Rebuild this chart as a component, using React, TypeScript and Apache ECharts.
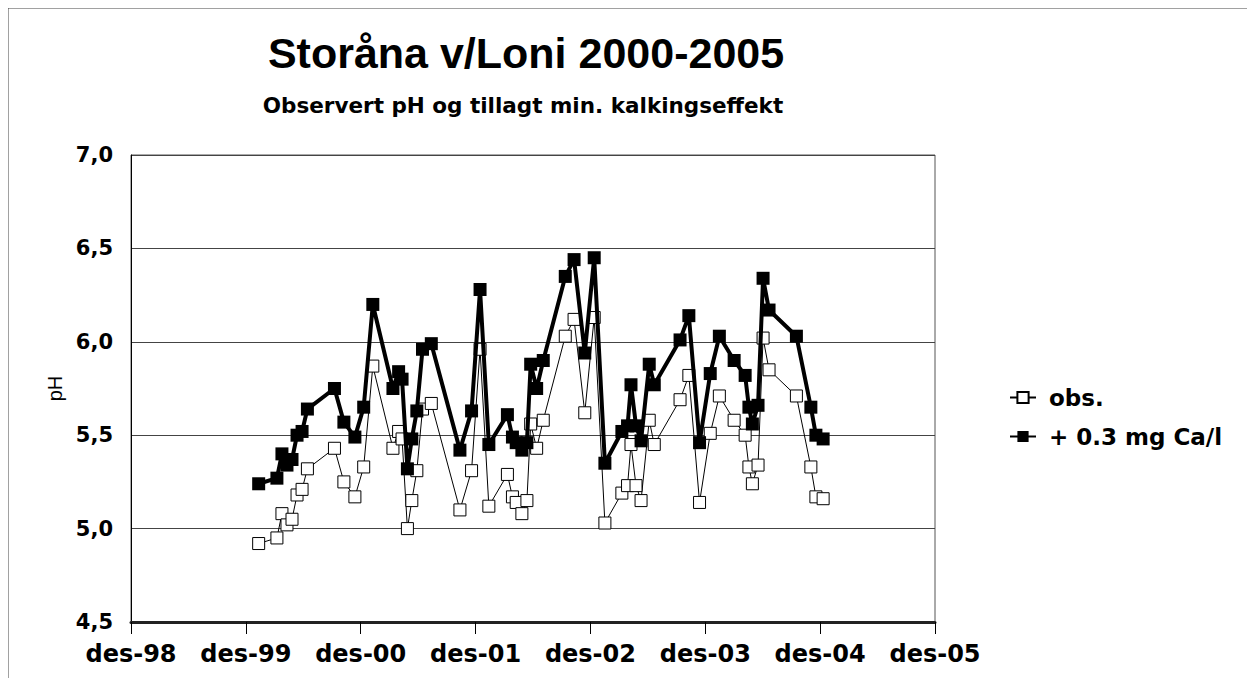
import React, { useEffect, useRef } from "react";
import * as echarts from "echarts";

const dates = [
  "2000-01-11", "2000-03-09", "2000-03-25", "2000-04-10", "2000-04-26", "2000-05-12", "2000-05-28", "2000-06-14",
  "2000-09-08", "2000-10-08", "2000-11-12", "2000-12-10", "2001-01-08", "2001-03-13", "2001-03-31", "2001-04-11",
  "2001-04-28", "2001-05-12", "2001-05-28", "2001-06-15", "2001-07-13", "2001-10-12", "2001-11-18", "2001-12-15",
  "2002-01-12", "2002-03-12", "2002-03-28", "2002-04-09", "2002-04-27", "2002-05-13", "2002-05-25", "2002-06-13",
  "2002-07-04", "2002-09-12", "2002-10-10", "2002-11-13", "2002-12-13", "2003-01-16", "2003-03-11", "2003-03-29",
  "2003-04-09", "2003-04-25", "2003-05-11", "2003-06-06", "2003-06-22", "2003-09-12", "2003-10-10", "2003-11-13",
  "2003-12-17", "2004-01-15", "2004-03-02", "2004-04-06", "2004-04-18", "2004-04-29", "2004-05-17", "2004-06-02",
  "2004-06-21", "2004-09-16", "2004-11-01", "2004-11-17", "2004-12-10",
];

const obs = [
  4.92, 4.95, 5.08, 5.02, 5.05, 5.18, 5.21, 5.32,
  5.43, 5.25, 5.17, 5.33, 5.87, 5.43, 5.52, 5.48,
  5.0, 5.15, 5.31, 5.64, 5.67, 5.1, 5.31, 5.96,
  5.12, 5.29, 5.17, 5.14, 5.08, 5.15, 5.56, 5.43,
  5.58, 6.03, 6.12, 5.62, 6.13, 5.03, 5.19, 5.23,
  5.45, 5.23, 5.15, 5.58, 5.45, 5.69, 5.82, 5.14,
  5.51, 5.71, 5.58, 5.5, 5.33, 5.24, 5.34, 6.02,
  5.85, 5.71, 5.33, 5.17, 5.16,
];

const kalk = [
  5.24, 5.27, 5.4, 5.34, 5.37, 5.5, 5.52, 5.64,
  5.75, 5.57, 5.49, 5.65, 6.2, 5.75, 5.84, 5.8,
  5.32, 5.48, 5.63, 5.96, 5.99, 5.42, 5.63, 6.28,
  5.45, 5.61, 5.49, 5.46, 5.42, 5.46, 5.88, 5.75,
  5.9, 6.35, 6.44, 5.94, 6.45, 5.35, 5.52, 5.55,
  5.77, 5.55, 5.47, 5.88, 5.77, 6.01, 6.14, 5.46,
  5.83, 6.03, 5.9, 5.82, 5.65, 5.56, 5.66, 6.34,
  6.17, 6.03, 5.65, 5.5, 5.48,
];

const xTickLabels = ["des-98", "des-99", "des-00", "des-01", "des-02", "des-03", "des-04", "des-05"];
const seriesNames = ["obs.", "+ 0.3 mg Ca/l"];

const ORIGIN = Date.UTC(1998, 11, 1);
const toYears = (d: string) => {
  const [y, m, dd] = d.split("-").map(Number);
  return (Date.UTC(y, m - 1, dd) - ORIGIN) / (365.25 * 86400000);
};

export default function App() {
  const ref = useRef<HTMLDivElement>(null);
  useEffect(() => {
    if (!ref.current) return;
    const chart = echarts.init(ref.current, undefined, { renderer: "svg" });
    const font = "Liberation Sans, Arial, sans-serif";
    const wide = "DejaVu Sans, sans-serif";
    chart.setOption({
      animation: false,
      backgroundColor: "#fff",
      textStyle: { fontFamily: font },
      graphic: [
        {
          type: "rect",
          shape: { x: 0, y: 0, width: 1300, height: 800 },
          style: { fill: "none", stroke: "#444", lineWidth: 1 },
          silent: true,
        },
      ],
      title: [
        {
          text: "Storåna v/Loni 2000-2005",
          left: 513,
          top: 18,
          textAlign: "center",
          textStyle: { fontSize: 43, fontWeight: "bold", color: "#000", fontFamily: font },
        },
        {
          text: "Observert pH og tillagt min. kalkingseffekt",
          left: 510,
          top: 81,
          textAlign: "center",
          textStyle: { fontSize: 21.5, fontWeight: "bold", color: "#000", fontFamily: wide },
        },
      ],
      legend: {
        orient: "vertical",
        left: 996,
        top: 373,
        itemGap: 16,
        itemWidth: 26,
        itemHeight: 14,
        data: seriesNames,
        textStyle: { fontSize: 23, fontWeight: "bold", color: "#000", fontFamily: wide, padding: [0, 0, 0, 8] },
      },
      grid: {
        left: 123,
        top: 147,
        width: 804,
        height: 467,
        show: true,
        borderColor: "#555",
        borderWidth: 1,
        backgroundColor: "transparent",
      },
      xAxis: {
        type: "value",
        min: 0,
        max: 7,
        interval: 1,
        axisLine: { show: true, onZero: false, lineStyle: { color: "#222", width: 3 } },
        axisTick: { show: true, length: 12, lineStyle: { color: "#000", width: 1 } },
        splitLine: { show: false },
        axisLabel: {
          margin: 20,
          fontSize: 24,
          fontWeight: "bold",
          color: "#000",
          fontFamily: wide,
          formatter: (v: number) => xTickLabels[Math.round(v)] ?? "",
        },
      },
      yAxis: {
        type: "value",
        min: 4.5,
        max: 7.0,
        interval: 0.5,
        name: "pH",
        nameLocation: "middle",
        nameGap: 62,
        nameTextStyle: { fontSize: 20, color: "#000", fontFamily: font },
        axisLine: { show: true, lineStyle: { color: "#000", width: 1 } },
        axisTick: { show: false },
        splitLine: { show: true, lineStyle: { color: "#444", width: 1 } },
        axisLabel: {
          margin: 18,
          fontSize: 21,
          fontWeight: "bold",
          color: "#000",
          fontFamily: wide,
          formatter: (v: number) => v.toFixed(1).replace(".", ","),
        },
      },
      series: [
        {
          name: seriesNames[0],
          type: "line",
          data: dates.map((d, i) => [toYears(d), obs[i]]),
          symbol: "rect",
          symbolSize: 12,
          showAllSymbol: true,
          lineStyle: { color: "#000", width: 1 },
          itemStyle: { color: "#fff", borderColor: "#000", borderWidth: 1 },
          z: 2,
        },
        {
          name: seriesNames[1],
          type: "line",
          data: dates.map((d, i) => [toYears(d), kalk[i]]),
          symbol: "rect",
          symbolSize: 13,
          showAllSymbol: true,
          lineStyle: { color: "#000", width: 4 },
          itemStyle: { color: "#000", borderColor: "#000", borderWidth: 0 },
          z: 3,
        },
      ],
    });
    return () => chart.dispose();
  }, []);
  return <div ref={ref} style={{ width: 1247, height: 670 }} />;
}
